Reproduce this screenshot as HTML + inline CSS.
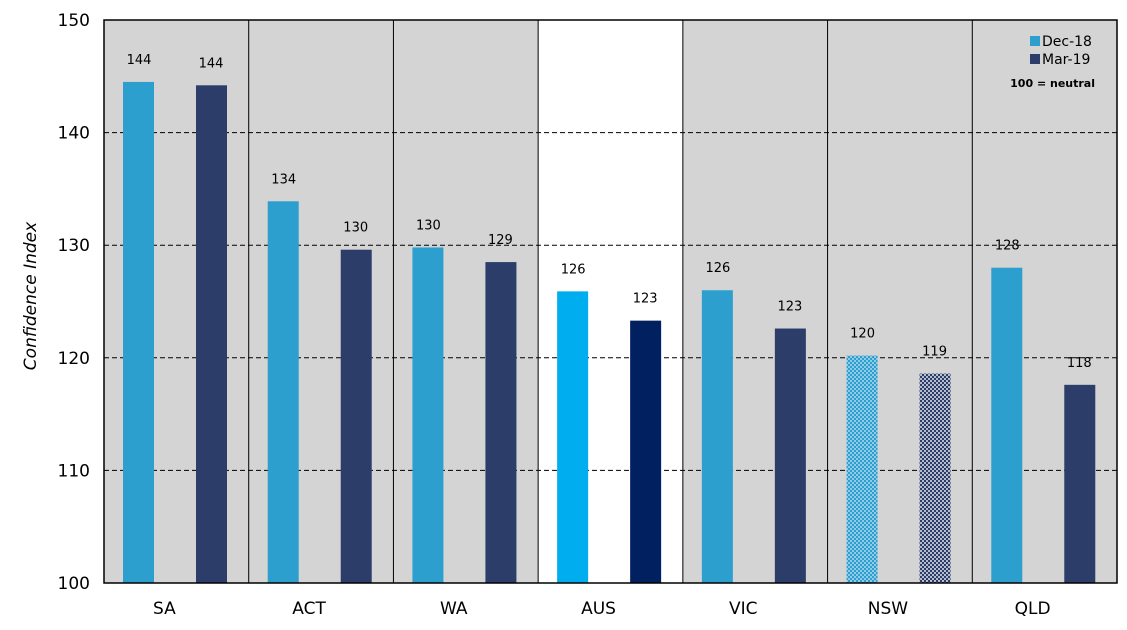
<!DOCTYPE html>
<html><head><meta charset="utf-8"><style>
body{margin:0;background:#fff;}
svg{display:block;font-family:"DejaVu Sans","Liberation Sans",sans-serif;}
</style></head><body>
<svg id="chart" width="1127" height="630" xmlns="http://www.w3.org/2000/svg">
<defs>
<pattern id="patDec" width="4" height="4" patternUnits="userSpaceOnUse"><rect width="4" height="4" fill="#8fcbe6"/><rect width="2" height="2" fill="#2c9fcf"/><rect x="2" y="2" width="2" height="2" fill="#2c9fcf"/></pattern>
<pattern id="patMar" width="4" height="4" patternUnits="userSpaceOnUse"><rect width="4" height="4" fill="#b5bccc"/><rect width="2" height="2" fill="#2b3d68"/><rect x="2" y="2" width="2" height="2" fill="#2b3d68"/></pattern>
</defs>
<g id="plot"></g>
</svg>
<script>
const categories=["SA","ACT","WA","AUS","VIC","NSW","QLD"];
const dec18=[144.5,133.9,129.8,125.9,126.0,120.2,128.0];
const mar19=[144.2,129.6,128.5,123.3,122.6,118.6,117.6];
const decLabels=["144","134","130","126","126","120","128"];
const marLabels=["144","130","129","123","123","119","118"];
const yTicks=[100,110,120,130,140,150];
const NS="http://www.w3.org/2000/svg";
const X0=104,X1=1117,Y0=583,Y1=20,YMIN=100,YMAX=150;
const gw=(X1-X0)/categories.length;
const y=v=>Y0-(v-YMIN)/(YMAX-YMIN)*(Y0-Y1);
const gx=i=>X0+i*gw;
const g=document.getElementById('plot');
function el(t,a){const e=document.createElementNS(NS,t);for(const k in a)e.setAttribute(k,a[k]);g.appendChild(e);return e;}
let bg=el('rect',{x:X0,y:Y1,width:X1-X0,height:Y0-Y1,fill:'#d4d4d4'});


let aus=categories.indexOf('AUS');
let wb=el('rect',{x:gx(aus),y:Y1,width:gw,height:Y0-Y1,fill:'#fff'});


yTicks.forEach(t=>{
  if(t>YMIN&&t<YMAX){let l=el('line',{x1:X0,x2:X1,y1:y(t),y2:y(t),stroke:'#000','stroke-width':1,'stroke-dasharray':'5,3'});
  
  }
  let tx=el('text',{x:X0-14,y:y(t)+6,'text-anchor':'end','font-size':17,fill:'#000'});
  tx.textContent=t;
  
  
});
for(let i=1;i<categories.length;i++){
  let l=el('line',{x1:gx(i),x2:gx(i),y1:Y1,y2:Y0,stroke:'#000','stroke-width':1});
  
  
}
categories.forEach((c,i)=>{
  const dFill=c==='AUS'?'#00adef':c==='NSW'?'url(#patDec)':'#2c9fcf';
  const mFill=c==='AUS'?'#002060':c==='NSW'?'url(#patMar)':'#2b3d68';
  let b1=el('rect',{x:gx(i)+19,y:y(dec18[i]),width:31,height:Y0-y(dec18[i]),fill:dFill});
  
  
  let b2=el('rect',{x:gx(i)+92,y:y(mar19[i]),width:31,height:Y0-y(mar19[i]),fill:mFill});
  
  
  let t1=el('text',{x:gx(i)+35,y:y(dec18[i])-18,'text-anchor':'middle','font-size':13,fill:'#000'});
  t1.textContent=decLabels[i];
  
  
  let t2=el('text',{x:gx(i)+107,y:y(mar19[i])-18,'text-anchor':'middle','font-size':13,fill:'#000'});
  t2.textContent=marLabels[i];
  
  
  let xl=el('text',{x:gx(i)+gw/2-12,y:614,'text-anchor':'middle','font-size':17,fill:'#000'});
  xl.textContent=c;
  
  
});
let fr=el('rect',{x:X0,y:Y1,width:X1-X0,height:Y0-Y1,fill:'none',stroke:'#000','stroke-width':1.5});


let yt=el('text',{x:36,y:296,'text-anchor':'middle','font-size':17,'font-style':'italic',fill:'#000',transform:'rotate(-90 36 296)'});
yt.textContent='Confidence Index';


let lg=[['#2c9fcf','Dec-18',46],['#2b3d68','Mar-19',64]];
lg.forEach(([c,t,yy])=>{
  let s=el('rect',{x:1030,y:yy-10,width:10,height:10,fill:c});
  
  
  let tx=el('text',{x:1042,y:yy,'font-size':14,fill:'#000'});
  tx.textContent=t;
  
  
});
let nt=el('text',{x:1095,y:87,'text-anchor':'end','font-size':11,'font-weight':'bold',fill:'#000'});
nt.textContent='100 = neutral';


</script>
</body></html>
